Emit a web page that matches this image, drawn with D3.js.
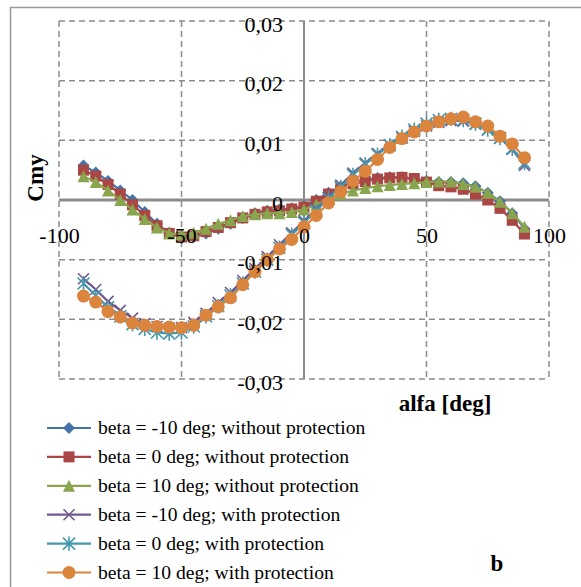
<!DOCTYPE html>
<html>
<head>
<meta charset="utf-8">
<script src="https://cdn.jsdelivr.net/npm/d3@7"></script>
</head>
<body style="margin:0">
<script>
// angle of attack, every 5 deg
var alfa = [-90, -85, -80, -75, -70, -65, -60, -55, -50, -45, -40, -35, -30, -25, -20, -15, -10, -5, 0,
    5, 10, 15, 20, 25, 30, 35, 40, 45, 50, 55, 60, 65, 70, 75, 80, 85, 90];

var cmy_m10_without = [0.0058, 0.0046, 0.0032, 0.0016, 0.0000, -0.0020, -0.0040, -0.0055, -0.0064, -0.0062,
    -0.0056, -0.0048, -0.0040, -0.0030, -0.0022, -0.0018, -0.0016, -0.0014, -0.0010,
    0.0000, 0.0012, 0.0022, 0.0030, 0.0034, 0.0037, 0.0038, 0.0038, 0.0035, 0.0032,
    0.0030, 0.0030, 0.0028, 0.0023, 0.0012, -0.0002, -0.0022, -0.0048];
var cmy_0_without = [0.0050, 0.0040, 0.0026, 0.0010, -0.0008, -0.0026, -0.0043, -0.0056, -0.0062, -0.0060,
    -0.0053, -0.0046, -0.0038, -0.0030, -0.0024, -0.0020, -0.0018, -0.0015, -0.0012,
    -0.0002, 0.0010, 0.0020, 0.0027, 0.0031, 0.0035, 0.0037, 0.0038, 0.0036, 0.0030,
    0.0024, 0.0022, 0.0018, 0.0010, 0.0000, -0.0014, -0.0034, -0.0057];
var cmy_10_without = [0.0040, 0.0030, 0.0016, 0.0000, -0.0016, -0.0032, -0.0046, -0.0056, -0.0058, -0.0055,
    -0.0048, -0.0040, -0.0034, -0.0027, -0.0024, -0.0022, -0.0022, -0.0020, -0.0016,
    -0.0008, 0.0002, 0.0010, 0.0016, 0.0020, 0.0023, 0.0025, 0.0027, 0.0028, 0.0030,
    0.0031, 0.0031, 0.0027, 0.0022, 0.0012, -0.0003, -0.0022, -0.0045];
var cmy_m10_with = [-0.0132, -0.0150, -0.0170, -0.0185, -0.0198, -0.0207, -0.0212, -0.0215, -0.0214, -0.0205,
    -0.0190, -0.0172, -0.0155, -0.0135, -0.0115, -0.0095, -0.0075, -0.0055, -0.0035,
    -0.0015, 0.0005, 0.0025, 0.0045, 0.0062, 0.0078, 0.0092, 0.0104, 0.0115, 0.0124,
    0.0130, 0.0133, 0.0132, 0.0127, 0.0118, 0.0104, 0.0085, 0.0058];
var cmy_0_with = [-0.0140, -0.0160, -0.0180, -0.0195, -0.0208, -0.0216, -0.0222, -0.0224, -0.0222, -0.0212,
    -0.0195, -0.0178, -0.0160, -0.0140, -0.0120, -0.0100, -0.0080, -0.0058, -0.0038,
    -0.0018, 0.0003, 0.0022, 0.0042, 0.0060, 0.0076, 0.0092, 0.0106, 0.0118, 0.0128,
    0.0134, 0.0136, 0.0134, 0.0128, 0.0118, 0.0104, 0.0086, 0.0062];
var cmy_10_with = [-0.0161, -0.0171, -0.0187, -0.0196, -0.0206, -0.0210, -0.0212, -0.0213, -0.0214, -0.0210,
    -0.0193, -0.0179, -0.0164, -0.0142, -0.0120, -0.0100, -0.0082, -0.0066, -0.0045,
    -0.0026, -0.0005, 0.0014, 0.0032, 0.0048, 0.0068, 0.0088, 0.0103, 0.0114, 0.0124,
    0.0131, 0.0136, 0.0139, 0.0131, 0.0124, 0.0107, 0.0094, 0.0071];

var series_names = ["beta = -10 deg; without protection", "beta = 0 deg; without protection",
    "beta = 10 deg; without protection", "beta = -10 deg; with protection",
    "beta = 0 deg; with protection", "beta = 10 deg; with protection"];
var series_values = [cmy_m10_without, cmy_0_without, cmy_10_without, cmy_m10_with, cmy_0_with, cmy_10_with];
var series_colors = ["#4572A7", "#AA4643", "#89A54E", "#71588F", "#4198AF", "#DB843D"];
var series_markers = ["diamond", "square", "triangle", "x", "star", "circle"];

var x_ticks = [-100, -50, 0, 50, 100];
var y_ticks = [-0.03, -0.02, -0.01, 0, 0.01, 0.02, 0.03];

var width = 581, height = 587;
var serif = "\"Liberation Serif\"";

var svg = d3.select("body")
    .append("svg")
    .attr("width", width)
    .attr("height", height)
    .attr("font-family", "Liberation Serif");

// chart frame (cut off on right / bottom like the picture)
svg.append("rect")
    .attr("x", 10.5)
    .attr("y", 7.5)
    .attr("width", 640)
    .attr("height", 640)
    .attr("fill", "none")
    .attr("stroke", "#999")
    .attr("stroke-width", 1.5);

var x = d3.scaleLinear().domain([-100, 100]).range([59, 549]);
var y = d3.scaleLinear().domain([-0.03, 0.03]).range([379, 21]);

var grid_color = "#8c8c8c";

// dashed grid
svg.append("g")
    .selectAll("line")
    .data(x_ticks.filter(function (d) { return d != 0; }))
    .enter().append("line")
    .attr("x1", function (d) { return x(d); })
    .attr("x2", function (d) { return x(d); })
    .attr("y1", y(0.03))
    .attr("y2", y(-0.03))
    .attr("stroke", grid_color)
    .attr("stroke-width", 1.5)
    .attr("stroke-dasharray", "6,4");

svg.append("g")
    .selectAll("line")
    .data(y_ticks.filter(function (d) { return d != 0; }))
    .enter().append("line")
    .attr("x1", x(-100))
    .attr("x2", x(100))
    .attr("y1", function (d) { return y(d); })
    .attr("y2", function (d) { return y(d); })
    .attr("stroke", grid_color)
    .attr("stroke-width", 1.5)
    .attr("stroke-dasharray", "6,4");

// axis lines through zero
svg.append("line")
    .attr("x1", x(0)).attr("x2", x(0))
    .attr("y1", y(0.03)).attr("y2", y(-0.03))
    .attr("stroke", grid_color)
    .attr("stroke-width", 2);
svg.append("line")
    .attr("x1", x(-100)).attr("x2", x(100))
    .attr("y1", y(0)).attr("y2", y(0))
    .attr("stroke", grid_color)
    .attr("stroke-width", 3);

function fmt(d) {
    if (d == 0) return "0";
    var s = Math.abs(d) >= 1 ? String(Math.abs(d)) : Math.abs(d).toFixed(2).replace(".", ",");
    return (d < 0 ? "-" : "") + s;
}

// marker shapes
function marker_path(kind, s) {
    var h = s / 2;
    switch (kind) {
        case "diamond": return "M0," + (-h) + "L" + h + ",0L0," + h + "L" + (-h) + ",0Z";
        case "square": return "M" + (-h) + "," + (-h) + "h" + s + "v" + s + "h" + (-s) + "Z";
        case "triangle": return "M0," + (-h) + "L" + h + "," + h + "L" + (-h) + "," + h + "Z";
        case "x": return "M" + (-h) + "," + (-h) + "L" + h + "," + h + "M" + h + "," + (-h) + "L" + (-h) + "," + h;
        case "star": return "M" + (-h) + "," + (-h) + "L" + h + "," + h + "M" + h + "," + (-h) + "L" + (-h) + "," + h +
            "M0," + (-h * 1.2) + "V" + (h * 1.2);
        case "circle": return d3.symbol(d3.symbolCircle, Math.PI * h * h)();
    }
}
var marker_size = { diamond: 12, square: 11, triangle: 12, x: 11, star: 12, circle: 13 };
function draw_marker(sel, kind, color) {
    var stroked = (kind == "x" || kind == "star");
    sel.attr("d", marker_path(kind, marker_size[kind]))
        .attr("fill", stroked ? "none" : color)
        .attr("stroke", stroked ? color : "none")
        .attr("stroke-width", stroked ? 1.6 : 0);
}

var line = d3.line()
    .x(function (d) { return x(d.a); })
    .y(function (d) { return y(d.c); });

series_values.forEach(function (vals, i) {
    var pts = alfa.map(function (a, j) { return { a: a, c: vals[j] }; });
    var g = svg.append("g");
    g.append("path")
        .datum(pts)
        .attr("d", line)
        .attr("fill", "none")
        .attr("stroke", series_colors[i])
        .attr("stroke-width", 2.2);
    g.selectAll("path.m")
        .data(pts)
        .enter().append("path")
        .attr("class", "m")
        .attr("transform", function (d) { return "translate(" + x(d.a) + "," + y(d.c) + ")"; })
        .call(draw_marker, series_markers[i], series_colors[i]);
});

// tick labels via axes, drawn above the series like the original
var y_axis = svg.append("g")
    .attr("transform", "translate(" + x(0) + ",3)")
    .call(d3.axisLeft(y).tickValues(y_ticks).tickFormat(fmt).tickSize(0).tickPadding(21));
var x_axis = svg.append("g")
    .attr("transform", "translate(0," + y(0) + ")")
    .call(d3.axisBottom(x).tickValues(x_ticks).tickFormat(fmt).tickSize(0).tickPadding(27));
[y_axis, x_axis].forEach(function (a) {
    a.attr("font-family", "Liberation Serif").attr("font-size", 22);
    a.select(".domain").remove();
    a.selectAll("text")
        .style("font-family", serif)
        .attr("fill", "#000");
});

// axis titles
svg.append("text")
    .attr("transform", "translate(43,178) rotate(-90)")
    .attr("text-anchor", "middle")
    .attr("font-size", 23)
    .attr("font-weight", "bold")
    .style("font-family", serif)
    .text("Cmy");
svg.append("text")
    .attr("x", 445)
    .attr("y", 411)
    .attr("text-anchor", "middle")
    .attr("font-size", 23)
    .attr("font-weight", "bold")
    .style("font-family", serif)
    .text("alfa [deg]");

// legend
var legend = svg.append("g")
    .selectAll("g")
    .data(series_names)
    .enter().append("g")
    .attr("transform", function (d, i) { return "translate(0," + (428 + i * 28.9) + ")"; });
legend.append("line")
    .attr("x1", 47).attr("x2", 91)
    .attr("stroke", function (d, i) { return series_colors[i]; })
    .attr("stroke-width", 2.2);
legend.append("path")
    .attr("transform", "translate(69,0)")
    .each(function (d, i) { d3.select(this).call(draw_marker, series_markers[i], series_colors[i]); });
legend.append("text")
    .attr("x", 98)
    .attr("dy", "0.33em")
    .attr("font-size", 19.6)
    .style("font-family", serif)
    .text(function (d) { return d; });

svg.append("text")
    .attr("x", 497)
    .attr("y", 571)
    .attr("text-anchor", "middle")
    .attr("font-size", 23)
    .attr("font-weight", "bold")
    .style("font-family", serif)
    .text("b");
</script>
</body>
</html>
